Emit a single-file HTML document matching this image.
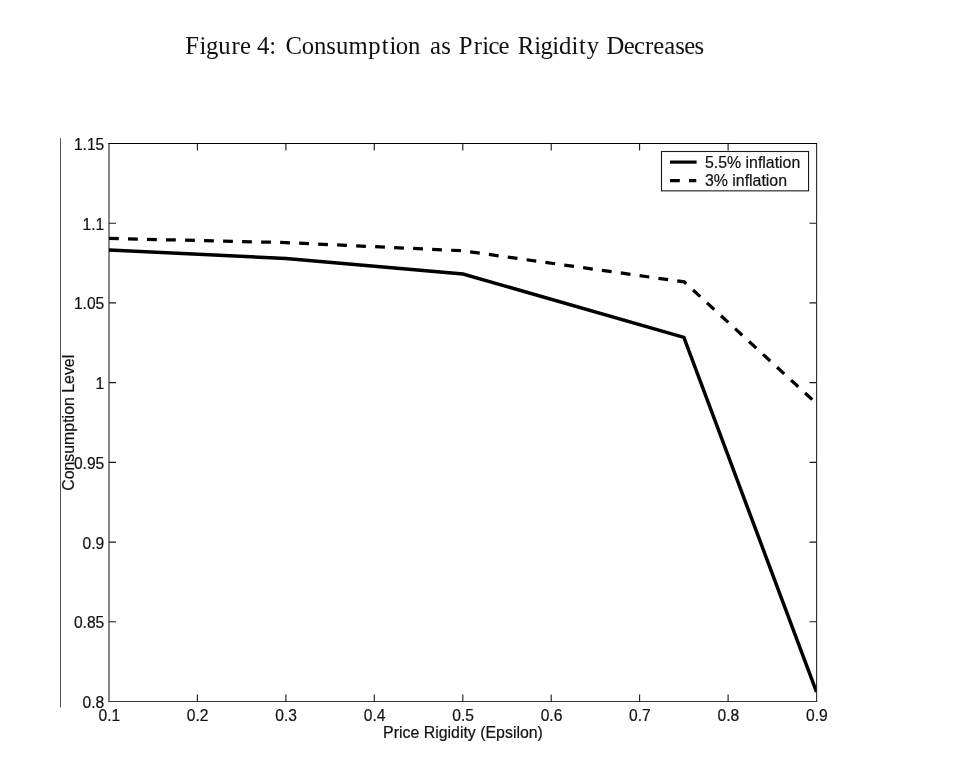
<!DOCTYPE html>
<html><head><meta charset="utf-8"><title>Figure 4</title>
<style>
html,body{margin:0;padding:0;background:#fff;}
body{width:972px;height:769px;overflow:hidden;position:relative;}
svg{position:absolute;left:0;top:0;display:block;}
.t{font-family:"Liberation Sans",Arial,Helvetica,sans-serif;font-size:15.6px;fill:#111;stroke:#111;stroke-width:0.2px;}
.ti{font-family:"Liberation Serif","Times New Roman",serif;font-size:24.7px;fill:#111;}
</style></head><body>
<svg width="972" height="769" viewBox="0 0 972 769">
<rect width="972" height="769" fill="#fff"/>
<text class="ti" x="185.19 199.54 205.92 218.30 231.48 239.91" y="54.2">Figure</text>
<text class="ti" x="257.10 269.29" y="54.2">4:</text>
<text class="ti" x="285.43 301.66 313.90 326.29 335.93 348.60 368.13 381.83 389.56 395.84 408.08" y="54.2">Consumption</text>
<text class="ti" x="429.93 441.36" y="54.2">as</text>
<text class="ti" x="458.67 473.76 482.14 488.40 498.61" y="54.2">Price</text>
<text class="ti" x="517.83 534.29 540.50 552.19 559.04 571.38 579.05 586.85" y="54.2">Rigidity</text>
<text class="ti" x="606.48 623.83 634.05 645.05 653.31 664.18 675.16 684.13 694.46" y="54.2">Decreases</text>
<line x1="60.5" y1="138" x2="60.5" y2="707.5" stroke="#555" stroke-width="1"/>
<line x1="109.0" y1="143.0" x2="109.0" y2="702.0" stroke="#111" stroke-width="1"/>
<line x1="816.6" y1="143.0" x2="816.6" y2="702.0" stroke="#2a2a2a" stroke-width="1.1"/>
<line x1="108.5" y1="143.5" x2="817.1" y2="143.5" stroke="#000" stroke-width="1.1"/>
<line x1="108.5" y1="701.5" x2="817.1" y2="701.5" stroke="#333" stroke-width="1.1"/>
<path d="M197.4,701.5v-7M197.4,143.5v7M285.9,701.5v-7M285.9,143.5v7M374.3,701.5v-7M374.3,143.5v7M462.8,701.5v-7M462.8,143.5v7M551.2,701.5v-7M551.2,143.5v7M639.6,701.5v-7M639.6,143.5v7M728.1,701.5v-7M728.1,143.5v7M109.0,621.8h7M816.5,621.8h-7M109.0,542.1h7M816.5,542.1h-7M109.0,462.4h7M816.5,462.4h-7M109.0,382.6h7M816.5,382.6h-7M109.0,302.9h7M816.5,302.9h-7M109.0,223.2h7M816.5,223.2h-7" stroke="#181818" stroke-width="1.1" fill="none"/>
<text class="t" x="109.3" y="721.2" text-anchor="middle">0.1</text>
<text class="t" x="197.7" y="721.2" text-anchor="middle">0.2</text>
<text class="t" x="286.2" y="721.2" text-anchor="middle">0.3</text>
<text class="t" x="374.6" y="721.2" text-anchor="middle">0.4</text>
<text class="t" x="463.1" y="721.2" text-anchor="middle">0.5</text>
<text class="t" x="551.5" y="721.2" text-anchor="middle">0.6</text>
<text class="t" x="639.9" y="721.2" text-anchor="middle">0.7</text>
<text class="t" x="728.4" y="721.2" text-anchor="middle">0.8</text>
<text class="t" x="816.8" y="721.2" text-anchor="middle">0.9</text>
<text class="t" x="104.3" y="708.0" text-anchor="end">0.8</text>
<text class="t" x="104.3" y="628.3" text-anchor="end">0.85</text>
<text class="t" x="104.3" y="548.6" text-anchor="end">0.9</text>
<text class="t" x="104.3" y="468.9" text-anchor="end">0.95</text>
<text class="t" x="104.3" y="389.1" text-anchor="end">1</text>
<text class="t" x="104.3" y="309.4" text-anchor="end">1.05</text>
<text class="t" x="104.3" y="229.7" text-anchor="end">1.1</text>
<text class="t" x="104.3" y="150.0" text-anchor="end">1.15</text>
<text class="t" x="463" y="737.7" text-anchor="middle" style="font-size:15.9px">Price Rigidity (Epsilon)</text>
<text class="t" transform="translate(73.65,422.8) rotate(-90)" text-anchor="middle" style="font-size:15.9px">Consumption Level</text>
<clipPath id="c"><rect x="109.0" y="143.5" width="707.5" height="558.0"/></clipPath>
<g clip-path="url(#c)" fill="none" stroke="#000" stroke-width="3.5" stroke-linejoin="miter">
<polyline points="109.0,250.0 286.0,258.4 463.0,274.0 683.9,337.4 816.5,692.0"/>
<polyline points="109.0,238.4 286.0,242.6 463.0,250.8 684.2,281.9 816.5,403.5" stroke-width="3.25" stroke-dasharray="9.8 9.22"/>
</g>
<rect x="661.5" y="151.5" width="147.05" height="39.35" fill="#fff" stroke="#1a1a1a" stroke-width="1.1"/>
<line x1="670.0" y1="162.1" x2="696.6" y2="162.1" stroke="#000" stroke-width="3.2"/>
<line x1="670.0" y1="180.6" x2="696.3" y2="180.6" stroke="#000" stroke-width="3.1" stroke-dasharray="9.8 9.2"/>
<text class="t" x="704.9" y="167.8" style="font-size:15.9px">5.5% inflation</text>
<text class="t" x="704.9" y="186.2" style="font-size:15.9px">3% inflation</text>
</svg>
</body></html>
